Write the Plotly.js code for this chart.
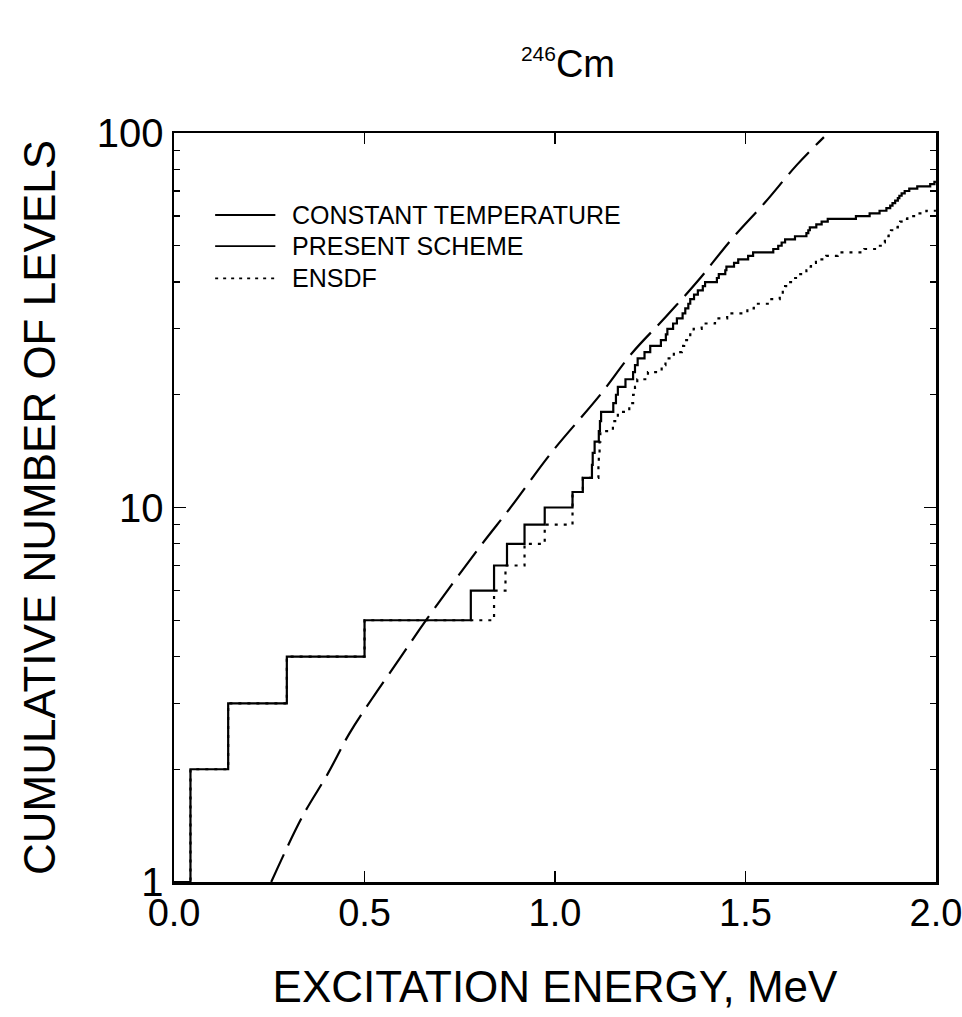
<!DOCTYPE html>
<html>
<head>
<meta charset="utf-8">
<script src="https://cdn.plot.ly/plotly-3.0.1.min.js"></script>
<style>
  html, body { margin: 0; padding: 0; background: #fff; }
  #chart { width: 962px; height: 1017px; }
</style>
</head>
<body>
<div id="chart"></div>
<script>
// ---- Data (excitation energy in MeV, cumulative number of levels) ----
const presentE = [0, 0.043, 0.142, 0.296, 0.500, 0.779, 0.840, 0.874, 0.920, 0.973,
  1.046, 1.073, 1.097, 1.099, 1.104, 1.115, 1.118, 1.121, 1.153, 1.160,
  1.165, 1.185, 1.205, 1.210, 1.217, 1.235, 1.250, 1.278, 1.291, 1.295,
  1.310, 1.320, 1.335, 1.342, 1.350, 1.355, 1.365, 1.375, 1.388, 1.394,
  1.425, 1.430, 1.447, 1.450, 1.470, 1.481, 1.507, 1.520, 1.573, 1.586,
  1.595, 1.604, 1.630, 1.660, 1.665, 1.669, 1.686, 1.700, 1.716, 1.790,
  1.826, 1.852, 1.870, 1.880, 1.886, 1.893, 1.900, 1.904, 1.910, 1.918,
  1.930, 1.951, 1.985, 1.996, 2.0];
const presentN = [1, 2, 3, 4, 5, 6, 7, 8, 9, 10,
  11, 12, 13, 14, 15, 16, 17, 18, 19, 20,
  21, 22, 23, 24, 25, 26, 27, 28, 29, 30,
  31, 32, 33, 34, 35, 36, 37, 38, 39, 40,
  41, 42, 43, 44, 45, 46, 47, 48, 49, 50,
  51, 52, 53, 54, 55, 56, 57, 58, 59, 60,
  61, 62, 63, 64, 65, 66, 67, 68, 69, 70,
  71, 72, 73, 74, 74];

const ensdfE = [0, 0.043, 0.142, 0.296, 0.500, 0.840, 0.870, 0.920, 0.973, 1.046,
  1.073, 1.114, 1.115, 1.117, 1.119, 1.152, 1.165, 1.195, 1.205, 1.210,
  1.216, 1.244, 1.280, 1.290, 1.312, 1.333, 1.339, 1.355, 1.364, 1.385,
  1.420, 1.452, 1.505, 1.522, 1.568, 1.590, 1.598, 1.604, 1.610, 1.627,
  1.638, 1.660, 1.667, 1.672, 1.685, 1.712, 1.742, 1.812, 1.840, 1.860,
  1.866, 1.870, 1.876, 1.882, 1.890, 1.900, 1.906, 1.913, 1.925, 1.948,
  1.975, 2.0];
const ensdfN = [1, 2, 3, 4, 5, 6, 7, 8, 9, 11,
  12, 13, 14, 15, 16, 17, 18, 19, 20, 21,
  22, 23, 24, 25, 26, 27, 28, 29, 30, 31,
  32, 33, 34, 35, 36, 37, 38, 39, 40, 41,
  42, 43, 44, 45, 46, 47, 48, 49, 50, 51,
  52, 53, 54, 55, 56, 57, 58, 59, 60, 61,
  62, 62];

const ctE = [0.255, 0.336, 0.404, 0.460, 0.520, 0.593, 0.662, 0.803, 0.885, 0.989,
  1.118, 1.203, 1.291, 1.377, 1.462, 1.550, 1.635, 1.706];
const ctN = [1.0, 1.49, 1.95, 2.49, 3.09, 3.96, 5.01, 7.86, 10.05, 13.95,
  19.96, 25.9, 32.3, 40.5, 51.8, 65.0, 82.2, 97.5];

const xTickVals = [0, 0.5, 1.0, 1.5, 2.0];
const xTickText = ['0.0', '0.5', '1.0', '1.5', '2.0'];

const legendLabels = ['CONSTANT TEMPERATURE', 'PRESENT SCHEME', 'ENSDF'];
const legendDash = ['solid', 'solid', 'dot'];

const FONT = 'Liberation Sans, Arial, sans-serif';

const traces = [
  { x: ensdfE, y: ensdfN, mode: 'lines', line: { shape: 'hv', color: '#000', width: 2.2, dash: '3px,6px' }, name: 'ENSDF', showlegend: false, hoverinfo: 'skip' },
  { x: presentE, y: presentN, mode: 'lines', line: { shape: 'hv', color: '#000', width: 2.2 }, name: 'PRESENT SCHEME', showlegend: false, hoverinfo: 'skip' },
  { x: ctE, y: ctN, mode: 'lines', line: { shape: 'spline', color: '#000', width: 2.2, dash: '30px,10px' }, name: 'CONSTANT TEMPERATURE', showlegend: false, hoverinfo: 'skip' }
];

// legend drawn as line samples + labels (paper coordinates)
const legX0 = 0.054, legX1 = 0.133, legTextX = 0.152;
const legY = [0.8905, 0.849, 0.806];
const shapes = [];
const annotations = [];
legendLabels.forEach((lab, i) => {
  shapes.push({ type: 'line', xref: 'paper', yref: 'paper', x0: legX0, x1: legX1, y0: legY[i], y1: legY[i],
    line: { color: '#000', width: 1.8, dash: legendDash[i] === 'dot' ? '3px,5px' : 'solid' } });
  annotations.push({ xref: 'paper', yref: 'paper', x: legTextX, y: legY[i], xanchor: 'left', yanchor: 'middle',
    text: lab, showarrow: false, font: { family: FONT, size: 25, color: '#000' } });
});

const layout = {
  width: 962, height: 1017,
  margin: { l: 174, r: 26, t: 133, b: 135 },
  paper_bgcolor: '#fff', plot_bgcolor: '#fff',
  showlegend: false,
  font: { family: FONT, color: '#000' },
  title: {
    text: '<sup><span style="font-size:21px">246</span></sup>Cm',
    font: { family: FONT, size: 38, color: '#000' },
    x: 0.517, xref: 'paper', xanchor: 'center',
    y: 0.937, yref: 'container', yanchor: 'middle'
  },
  xaxis: {
    range: [-0.0002, 2.0002], tickmode: 'array', tickvals: xTickVals, ticktext: xTickText,
    ticks: 'inside', ticklen: 11, tickwidth: 1.5, tickcolor: '#000',
    showline: true, linewidth: 2.5, linecolor: '#000', mirror: 'ticks',
    showgrid: false, zeroline: false,
    tickfont: { family: FONT, size: 38, color: '#000' },
    ticklabeloverflow: 'allow', ticklabelstandoff: -4,
    title: { text: 'EXCITATION ENERGY, MeV', font: { family: FONT, size: 44, color: '#000' }, standoff: 38 },
    automargin: false
  },
  yaxis: {
    type: 'log', range: [0, 2], tickmode: 'linear', tick0: 0, dtick: 1,
    ticks: 'inside', ticklen: 12, tickwidth: 1.5, tickcolor: '#000',
    minor: { ticks: 'inside', dtick: 'D1', ticklen: 6, tickwidth: 1.2, tickcolor: '#000', showgrid: false },
    showline: true, linewidth: 2.5, linecolor: '#000', mirror: 'ticks',
    showgrid: false, zeroline: false,
    tickfont: { family: FONT, size: 40, color: '#000' },
    title: { text: 'CUMULATIVE NUMBER OF LEVELS', font: { family: FONT, size: 44, color: '#000' }, standoff: 28 },
    automargin: false
  },
  shapes: shapes,
  annotations: annotations
};

Plotly.newPlot('chart', traces, layout, { staticPlot: true, displayModeBar: false });
</script>
</body>
</html>
